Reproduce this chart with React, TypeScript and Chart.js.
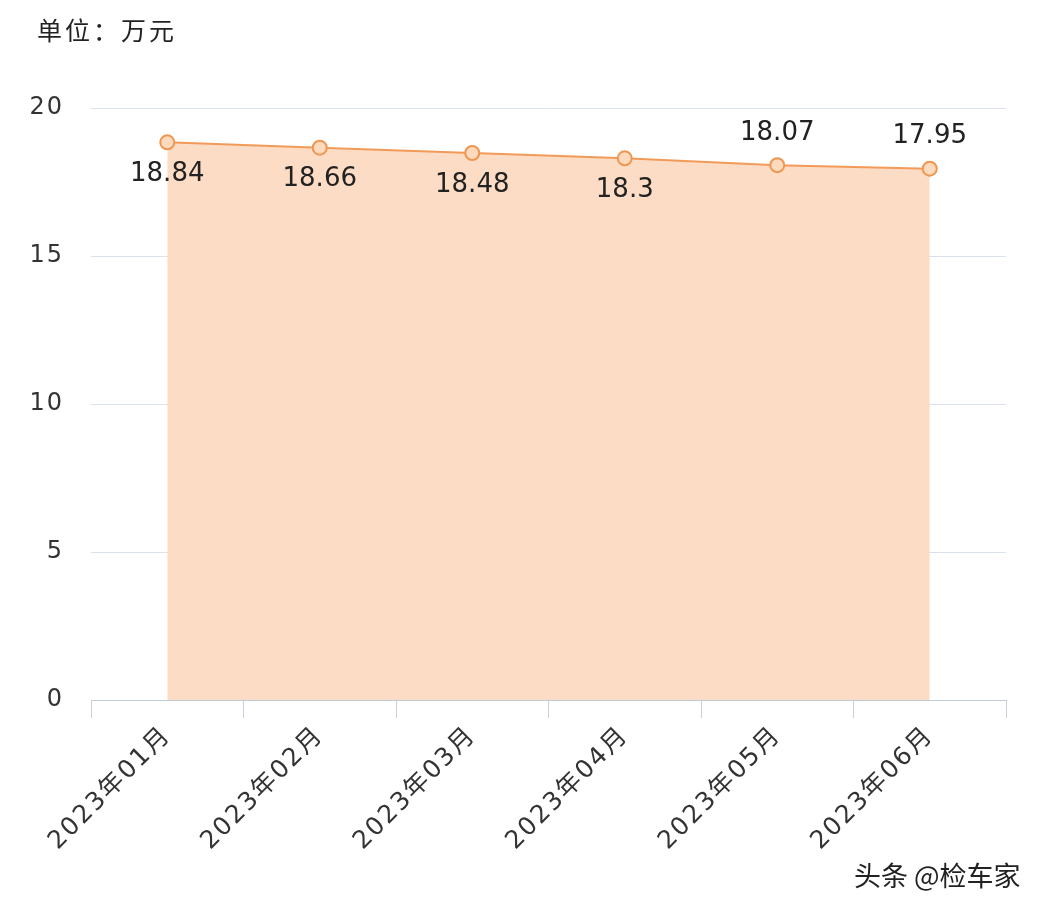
import { useEffect, useRef } from 'react';
import Chart from 'chart.js/auto';

const months = ['2023年01月', '2023年02月', '2023年03月', '2023年04月', '2023年05月', '2023年06月'];
const prices = [18.84, 18.66, 18.48, 18.3, 18.07, 17.95];
const yTicks = [0, 5, 10, 15, 20];

const FONT = '"DejaVu Sans", "Noto Sans CJK SC", sans-serif';
const CJK_FONT = '"Noto Sans CJK SC", "DejaVu Sans", sans-serif';
// last two labels sit above their points, the rest below
const labelAbove = [false, false, false, false, true, true];

// the reference text is set a bit loose, so widen the canvas letter spacing
const spacing = {
  id: 'spacing',
  beforeUpdate(chart: Chart) {
    (chart.ctx as any).letterSpacing = '2px';
  },
  beforeDraw(chart: Chart) {
    (chart.ctx as any).letterSpacing = '2px';
  },
};

const valueLabels = {
  id: 'valueLabels',
  afterDatasetsDraw(chart: Chart) {
    const { ctx } = chart;
    const meta = chart.getDatasetMeta(0);
    ctx.save();
    (ctx as any).letterSpacing = '0px';
    ctx.font = `26px ${FONT}`;
    ctx.fillStyle = '#222';
    ctx.textAlign = 'center';
    ctx.textBaseline = 'middle';
    meta.data.forEach((pt, i) => {
      const dy = labelAbove[i] ? -32 : 32;
      ctx.fillText(String(prices[i]), pt.x, pt.y + dy);
    });
    ctx.restore();
  },
};

const App = () => {
  const chartRef = useRef<HTMLCanvasElement | null>(null);
  const chartInstance = useRef<Chart | null>(null);

  useEffect(() => {
    document.body.style.margin = '0';
    if (chartInstance.current) {
      chartInstance.current.destroy();
    }
    if (!chartRef.current) return;
    const ctx = chartRef.current.getContext('2d');
    if (!ctx) return;

    chartInstance.current = new Chart(ctx, {
      type: 'line',
      data: {
        labels: months,
        datasets: [
          {
            data: prices,
            borderColor: '#f29a58',
            borderWidth: 2,
            backgroundColor: '#fddcc5',
            fill: 'origin',
            tension: 0,
            pointRadius: 7,
            pointBorderWidth: 2,
            pointBackgroundColor: '#fdd9bd',
            pointBorderColor: '#ef9651',
          },
        ],
      },
      options: {
        animation: false,
        responsive: false,
        layout: { padding: { top: 108, right: 38, left: 0, bottom: 0 } },
        plugins: {
          legend: { display: false },
          tooltip: { enabled: false },
        },
        scales: {
          x: {
            offset: true,
            grid: {
              offset: true,
              drawOnChartArea: false,
              tickLength: 18,
              color: '#c9d1dc',
            },
            border: { color: '#c2cad6' },
            ticks: {
              maxRotation: 45,
              minRotation: 45,
              padding: 3,
              color: '#333',
              font: { size: 25, family: FONT },
            },
            afterFit: (scale: any) => {
              scale.height = 210;
            },
          },
          y: {
            min: 0,
            max: 20,
            afterBuildTicks: (scale: any) => {
              scale.ticks = yTicks.map((v) => ({ value: v }));
            },
            grid: { color: '#dbe2ec', drawTicks: false },
            border: { display: false },
            ticks: {
              padding: 27,
              color: '#333',
              font: { size: 24, family: FONT },
            },
            afterFit: (scale: any) => {
              scale.width = 91;
            },
          },
        },
      },
      plugins: [spacing, valueLabels],
    });

    return () => {
      if (chartInstance.current) {
        chartInstance.current.destroy();
      }
    };
  }, []);

  return (
    <div style={{ position: 'relative', width: 1044, height: 910, background: '#fff', fontFamily: CJK_FONT }}>
      <canvas ref={chartRef} width={1044} height={910} style={{ display: 'block' }} />
      <div style={{ position: 'absolute', left: 37, top: 11, fontSize: 25, letterSpacing: 3, color: '#222' }}>
        单位：万元
      </div>
      <div style={{ position: 'absolute', left: 854, top: 855, fontSize: 27, color: '#222' }}>头条 @检车家</div>
    </div>
  );
};

export default App;
